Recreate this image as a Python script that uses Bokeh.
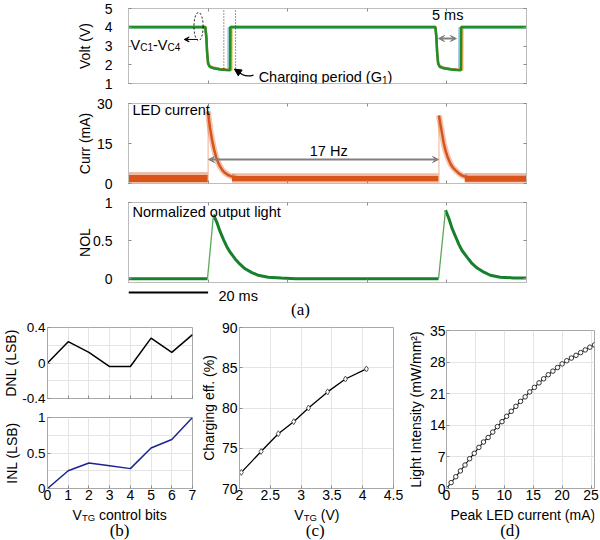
from bokeh.plotting import figure
from bokeh.models import Range1d, FixedTicker, LinearAxis, Label, Arrow, VeeHead, NormalHead, AllLabels
from bokeh.layouts import column, row
from bokeh.embed import file_html
from bokeh.resources import INLINE

# ================= DATA =================
# ---- (a) time base (ms)
time_range_ms = [0, 100]
time_ticks_ms = [0, 20, 40, 60, 80, 100]

# ---- (a) top: capacitor voltages V_C1..V_C4 (V)
vc1_t = [0, 19.3, 19.55, 19.75, 20.0, 20.4, 21.4, 23.0, 24.5, 25.0, 25.05, 77.1, 77.35, 77.55, 77.8, 78.2, 79.2, 81.0, 82.5, 83.0, 83.05, 100]
vc1_v = [3.98, 3.98, 3.46, 2.62, 2.04, 1.87, 1.79, 1.73, 1.70, 1.69, 3.98, 3.98, 3.46, 2.62, 2.04, 1.87, 1.79, 1.73, 1.70, 1.69, 3.98, 3.98]
vc2_t = [0, 19.3, 19.55, 19.75, 20.0, 20.4, 21.4, 23.0, 24.5, 26.0, 26.05, 77.1, 77.35, 77.55, 77.8, 78.2, 79.2, 81.0, 82.5, 84.0, 84.05, 100]
vc2_v = [4.01, 4.01, 3.50, 2.66, 2.08, 1.90, 1.82, 1.76, 1.73, 1.71, 4.01, 4.01, 3.50, 2.66, 2.08, 1.90, 1.82, 1.76, 1.73, 1.71, 4.01, 4.01]
vc3_t = [0, 19.3, 19.55, 19.75, 20.0, 20.4, 21.4, 23.0, 24.5, 25.6, 25.65, 77.1, 77.35, 77.55, 77.8, 78.2, 79.2, 81.0, 82.5, 83.6, 83.65, 100]
vc3_v = [4.03, 4.03, 3.52, 2.68, 2.10, 1.92, 1.84, 1.78, 1.75, 1.73, 4.03, 4.03, 3.52, 2.68, 2.10, 1.92, 1.84, 1.78, 1.75, 1.73, 4.03, 4.03]
vc4_t = [0, 19.3, 19.55, 19.75, 20.0, 20.4, 21.4, 23.0, 24.5, 25.5, 25.55, 77.1, 77.35, 77.55, 77.8, 78.2, 79.2, 81.0, 82.5, 83.5, 83.55, 100]
vc4_v = [4.00, 4.00, 3.48, 2.64, 2.06, 1.89, 1.81, 1.75, 1.72, 1.71, 4.00, 4.00, 3.48, 2.64, 2.06, 1.89, 1.81, 1.75, 1.72, 1.71, 4.00, 4.00]
volt_range = [1, 5]
volt_ticks = [1, 2, 3, 4, 5]
charge_marks_t = [23.95, 26.9]
charge_marks_v = [1.8, 5.0]

# ---- (a) middle: LED current (mA)
cur_range = [0, 30]
cur_ticks = [0, 15, 30]
cur_noise_start = [0, 26.0, 84.5]
cur_noise_end = [19.95, 77.9, 100]
cur_noise_core_lo = [0.6, 0.8, 0.7]
cur_noise_core_hi = [3.2, 2.8, 2.9]
cur_noise_outer_lo = [0.1, 0.3, 0.3]
cur_noise_outer_hi = [4.3, 3.8, 3.9]
cur_p1_t = [20.0, 20.25, 20.5, 20.75, 21.0, 21.5, 22.0, 22.5, 23.0, 23.5, 24.0, 25.0, 26.0, 27.0]
cur_p1_i = [27.0, 23.5, 20.8, 18.5, 16.3, 12.8, 10.0, 8.0, 6.4, 5.2, 4.3, 3.2, 2.6, 2.2]
cur_p2_t = [78.0, 78.4, 78.8, 79.2, 79.65, 80.2, 80.9, 81.5, 82.2, 83.0, 83.8, 85.0]
cur_p2_i = [25.5, 22.0, 18.6, 15.2, 12.4, 9.8, 7.4, 6.0, 4.9, 3.8, 3.0, 2.4]

# ---- (a) bottom: normalized output light
nol_range = [-0.05, 1.0]
nol_ticks = [0, 0.5, 1]
nol_t = [0, 19.85, 21.35, 22.2, 23.0, 23.9, 24.7, 25.5, 26.8, 28.0, 29.3, 31.0, 32.6, 35.1, 38.4, 42.0,
         77.9, 79.65, 80.5, 81.3, 82.2, 83.0, 83.8, 85.1, 86.3, 87.6, 89.3, 90.9, 93.4, 96.7, 100]
nol_v = [0, 0, 0.84, 0.74, 0.62, 0.51, 0.42, 0.35, 0.26, 0.19, 0.13, 0.08, 0.045, 0.02, 0.008, 0.0,
         0.0, 0.90, 0.79, 0.66, 0.55, 0.45, 0.37, 0.28, 0.20, 0.14, 0.085, 0.045, 0.02, 0.01, 0.01]
scale_bar_ms = [0, 20]

# ---- (b) DNL / INL
bits = [0, 1, 2, 3, 4, 5, 6, 7]
dnl = [0.0, 0.24, 0.12, -0.04, -0.04, 0.28, 0.12, 0.32]
inl = [0.0, 0.25, 0.36, 0.32, 0.28, 0.57, 0.69, 1.0]
dnl_ticks = [-0.4, 0, 0.4]
dnl_labels = ["-0.4", "0", "0.4"]
dnl_grid = [-0.4, -0.2, 0, 0.2, 0.4]
inl_ticks = [0, 0.5, 1]
inl_grid = [0, 0.25, 0.5, 0.75, 1]

# ---- (c) charging efficiency
vtg = [2.03, 2.35, 2.63, 2.88, 3.12, 3.43, 3.72, 4.06]
eff = [72.0, 74.6, 76.8, 78.3, 80.0, 82.0, 83.6, 84.85]
vtg_ticks = [2, 2.5, 3, 3.5, 4, 4.5]
eff_ticks = [70, 75, 80, 85, 90]

# ---- (d) light intensity
peak_ma = [0, 0.8, 1.6, 2.4, 3.2, 4.0, 4.8, 5.6, 6.4, 7.2, 8.0, 8.8, 9.6, 10.4, 11.2, 12.0, 12.8,
           13.6, 14.4, 15.2, 16.0, 16.8, 17.6, 18.4, 19.2, 20.0, 20.8, 21.6, 22.4, 23.2, 24.0, 24.8, 25.6]
intensity = [0, 1.3, 2.6, 3.9, 5.2, 6.6, 7.8, 9.1, 10.3, 11.3, 12.5, 13.7, 14.8, 16.0, 17.1, 18.2, 19.3,
             20.3, 21.4, 22.4, 23.4, 24.3, 25.2, 26.0, 26.8, 27.6, 28.3, 28.9, 29.5, 30.1, 30.7, 31.3, 31.8]
ma_range = [0, 25.6]
ma_ticks = [0, 5, 10, 15, 20, 25]
int_ticks = [0, 7, 14, 21, 28, 35]

# ================= STYLE =================
FONT = "Liberation Sans"
SERIF = "Liberation Serif"
FRAME = "#bdbdbd"
FRAME2 = "#a8a8a8"
TICK = "#8c8c8c"
GRID = "#e4e4e4"
ORANGE = "#d9541a"
GREEN = "#16802c"

W = {' ': .278, '(': .333, ')': .333, '-': .333, '.': .278, '%': .889, '/': .278,
     'A': .667, 'B': .667, 'C': .722, 'D': .722, 'E': .667, 'G': .778, 'I': .278, 'L': .556,
     'N': .722, 'P': .667, 'S': .667, 'T': .611, 'V': .667, 'W': .944,
     'a': .556, 'b': .556, 'c': .5, 'd': .556, 'e': .556, 'f': .278, 'g': .556, 'h': .556,
     'i': .222, 'k': .5, 'l': .222, 'm': .833, 'n': .556, 'o': .556, 'p': .556, 'r': .333,
     's': .5, 't': .278, 'u': .556, 'y': .5, 'z': .5}


def tw(s, px):
    return sum(W.get(c, .556) for c in s) * px


def compose(p, x, yb, ys, pieces):
    # pieces: (text, font px, is_subscript, extra gap before in px)
    off = 0.0
    for txt, px, sub, gap in pieces:
        off += gap
        p.add_layout(Label(x=x, y=ys if sub else yb, x_offset=off, text=txt, text_font=FONT,
                           text_font_size=f"{px}px", text_baseline="alphabetic",
                           text_align="left", text_color="black"))
        off += tw(txt, px)


def label(p, x, y, text, size=14.5, align="left", font=FONT, baseline="middle"):
    p.add_layout(Label(x=x, y=y, text=text, text_font=font, text_font_size=f"{size}px",
                       text_align=align, text_baseline=baseline, text_color="black"))


def style_axis(ax, ticks, labels=True, font_px=14, standoff=4, line=FRAME, tick_in=3, names=None):
    ax.ticker = FixedTicker(ticks=ticks)
    ax.major_tick_in = tick_in
    ax.major_tick_out = 0
    ax.minor_tick_line_color = None
    ax.axis_line_color = line
    ax.major_tick_line_color = TICK
    ax.major_label_text_font = FONT
    ax.major_label_policy = AllLabels()
    if labels:
        ax.major_label_text_color = "black"
        ax.major_label_text_font_size = f"{font_px}px"
        ax.major_label_standoff = standoff
        names = names or ["%g" % v for v in ticks]
        ax.major_label_overrides = dict(zip(ticks, names))
    else:
        ax.major_label_text_color = None
        ax.major_label_text_font_size = "1px"
        ax.major_label_standoff = 0
    ax.axis_label_text_font = FONT
    ax.axis_label_text_font_style = "normal"
    ax.axis_label_text_color = "black"
    ax.axis_label_text_font_size = "14px"


x_shared = Range1d(*time_range_ms)


def top_fig(h, top, bottom, yr, yticks, ylabel, lab_off):
    p = figure(width=600, height=h, x_range=x_shared, y_range=Range1d(*yr),
               output_backend="svg", toolbar_location=None,
               min_border_left=128, min_border_right=74,
               min_border_top=top, min_border_bottom=bottom)
    p.grid.visible = False
    p.outline_line_color = FRAME
    style_axis(p.xaxis[0], time_ticks_ms, labels=False)
    style_axis(p.yaxis[0], yticks, labels=True, font_px=14, standoff=16)
    p.yaxis[0].axis_label = ylabel
    p.yaxis[0].axis_label_standoff = lab_off
    ax = LinearAxis()
    style_axis(ax, time_ticks_ms, labels=False)
    p.add_layout(ax, "above")
    ay = LinearAxis()
    style_axis(ay, yticks, labels=False)
    p.add_layout(ay, "right")
    return p


# ---------- (a) voltage ----------
p1 = top_fig(93, 8, 10, volt_range, volt_ticks, "Volt (V)", 9)
p1.line(vc1_t, vc1_v, line_color="#9cc6e4", line_width=1.5)
p1.line(vc2_t, vc2_v, line_color="#e8cf6a", line_width=1.5)
p1.line(vc3_t, vc3_v, line_color="#d97f2e", line_width=2.5)
p1.line(vc4_t, vc4_v, line_color="#1f8f2a", line_width=2.5)
p1.segment(x0=charge_marks_t, y0=[charge_marks_v[0]] * 2, x1=charge_marks_t,
           y1=[charge_marks_v[1]] * 2, line_dash="1 2", line_color="#333333", line_width=1)
p1.ellipse(x=[17.6], y=[4.04], width=[2.3], height=[1.5], fill_color=None,
           line_color="black", line_dash="2 2", line_width=1)
p1.add_layout(Arrow(end=VeeHead(size=5, line_color="black", fill_color="black", line_width=1),
                    x_start=17.4, y_start=3.35, x_end=14.0, y_end=3.35, line_color="black", line_width=1))
compose(p1, 0.5, 3.07, 2.91, [("V", 14.5, False, 0), ("C1", 10, True, 0),
                              ("-V", 14.5, False, 0), ("C4", 10, True, 0)])
p1.bezier(x0=[31.4], y0=[1.45], x1=[27.6], y1=[1.66], cx0=[29.6], cy0=[1.33], cx1=[28.3], cy1=[1.48],
          line_color="black", line_width=1.3)
p1.add_layout(Arrow(end=NormalHead(size=7, line_color="black", fill_color="black"),
                    x_start=27.8, y_start=1.6, x_end=26.6, y_end=1.77, line_color="black", line_width=1.3))
compose(p1, 32.7, 1.33, 1.17, [("Charging period (G", 14.5, False, 0), ("1", 10, True, 0),
                               (")", 14.5, False, 0)])
label(p1, 80.2, 4.63, "5 ms", align="center")
p1.add_layout(Arrow(start=VeeHead(size=6, line_color="#808080", fill_color="#808080"),
                    end=VeeHead(size=6, line_color="#808080", fill_color="#808080"),
                    x_start=77.9, y_start=3.4, x_end=82.4, y_end=3.4, line_color="#808080", line_width=2))

# ---------- (a) current ----------
p2 = top_fig(100, 10, 10, cur_range, cur_ticks, "Curr (mA)", 1)
p2.quad(left=cur_noise_start, right=cur_noise_end, bottom=cur_noise_outer_lo, top=cur_noise_outer_hi,
        fill_color=ORANGE, fill_alpha=0.4, line_color=None)
p2.quad(left=cur_noise_start, right=cur_noise_end, bottom=cur_noise_core_lo, top=cur_noise_core_hi,
        fill_color=ORANGE, line_color=None)
p2.segment(x0=[cur_p1_t[0], cur_p2_t[0]], y0=[0, 0], x1=[cur_p1_t[0], cur_p2_t[0]],
           y1=[cur_p1_i[0], cur_p2_i[0]], line_color="#f0b090", line_width=1)
p2.line(cur_p1_t, cur_p1_i, line_color=ORANGE, line_width=6, line_alpha=0.35)
p2.line(cur_p2_t, cur_p2_i, line_color=ORANGE, line_width=6, line_alpha=0.35)
p2.line(cur_p1_t, cur_p1_i, line_color=ORANGE, line_width=2.5)
p2.line(cur_p2_t, cur_p2_i, line_color=ORANGE, line_width=2.5)
label(p2, 1.0, 27.4, "LED current")
label(p2, 50.3, 12.2, "17 Hz", align="center")
p2.add_layout(Arrow(start=VeeHead(size=6, line_color="#808080", fill_color="#808080"),
                    end=VeeHead(size=6, line_color="#808080", fill_color="#808080"),
                    x_start=20.1, y_start=9.0, x_end=77.9, y_end=9.0, line_color="#808080", line_width=2))

# ---------- (a) NOL ----------
p3 = top_fig(95, 9, 6, nol_range, nol_ticks, "NOL", -3)
rise_idx = [i for i in range(len(nol_v) - 1) if nol_v[i + 1] - nol_v[i] > 0.3]
xs, ys, s = [], [], 0
for i in rise_idx:
    xs.append(nol_t[s:i + 1]); ys.append(nol_v[s:i + 1]); s = i + 1
xs.append(nol_t[s:]); ys.append(nol_v[s:])
p3.multi_line(xs, ys, line_color=GREEN, line_width=3)
p3.segment(x0=[nol_t[i] for i in rise_idx], y0=[nol_v[i] for i in rise_idx],
           x1=[nol_t[i + 1] for i in rise_idx], y1=[nol_v[i + 1] for i in rise_idx],
           line_color="#5aa85a", line_width=1.3)
label(p3, 1.0, 0.88, "Normalized output light")

# ---------- (a) scale bar strip (y measured downward in px) ----------
psb = figure(width=600, height=31, x_range=x_shared, y_range=Range1d(31, 0),
             output_backend="svg", toolbar_location=None, x_axis_type=None, y_axis_type=None,
             min_border_left=128, min_border_right=74, min_border_top=0, min_border_bottom=0)
psb.grid.visible = False
psb.outline_line_color = None
psb.line(scale_bar_ms, [4, 4], line_color="black", line_width=2)
label(psb, 22.6, 7.5, "20 ms")
label(psb, 43.2, 21, "(a)", size=17, align="center", font=SERIF)


# ---------- bottom row ----------
def bot_fig(w, h, left, right, top, bottom, xr, yr, xticks, yticks, xgrid, ygrid,
            xlabels=True, ystand=4, ynames=None, yfont=14):
    p = figure(width=w, height=h, x_range=xr, y_range=Range1d(*yr),
               output_backend="svg", toolbar_location=None,
               min_border_left=left, min_border_right=right, min_border_top=top, min_border_bottom=bottom)
    p.outline_line_color = FRAME2
    p.xgrid.ticker = FixedTicker(ticks=xgrid)
    p.ygrid.ticker = FixedTicker(ticks=ygrid)
    p.grid.grid_line_color = GRID
    style_axis(p.xaxis[0], xticks, labels=xlabels, standoff=1, line=FRAME2)
    style_axis(p.yaxis[0], yticks, labels=True, standoff=ystand, line=FRAME2, names=ynames, font_px=yfont)
    return p


def strip(w, left, right, xr):
    # frame for the x-label texts; y measured downward in px from the strip top
    p = figure(width=w, height=35, x_range=xr, y_range=Range1d(35, 0),
               output_backend="svg", toolbar_location=None, x_axis_type=None, y_axis_type=None,
               min_border_left=left, min_border_right=right, min_border_top=0, min_border_bottom=0)
    p.grid.visible = False
    p.outline_line_color = None
    return p


SPACE14 = tw(" ", 14)

xr_b = Range1d(0, 7)
pd_ = bot_fig(197, 88, 42, 5, 8, 9, xr_b, [-0.4, 0.4], bits, dnl_ticks, bits, dnl_grid,
              xlabels=False, ystand=2, ynames=dnl_labels, yfont=13.5)
pd_.yaxis[0].axis_label = "DNL (LSB)"
pd_.yaxis[0].axis_label_standoff = 0
pd_.line(bits, dnl, line_color="black", line_width=1.5)

pi_ = bot_fig(197, 98, 42, 5, 10, 17, xr_b, [0, 1], bits, inl_ticks, bits, inl_grid,
              ystand=2, yfont=13.5)
pi_.yaxis[0].axis_label = "INL (LSB)"
pi_.yaxis[0].axis_label_standoff = 4
pi_.line(bits, inl, line_color="#1c2490", line_width=1.5)

sb = strip(197, 42, 5, xr_b)
compose(sb, 1.21, 9, 11.5, [("V", 14, False, 0), ("TG", 9.5, True, 0), ("control bits", 14, False, SPACE14)])
label(sb, 3.48, 25, "(b)", size=17, align="center", font=SERIF)

xr_c = Range1d(2, 4.5)
pc = bot_fig(207, 186, 36, 11, 8, 17, xr_c, [70, 90], vtg_ticks, eff_ticks, vtg_ticks, eff_ticks, ystand=2)
pc.yaxis[0].axis_label = "Charging eff. (%)"
pc.yaxis[0].axis_label_standoff = 2
pc.line(vtg, eff, line_color="black", line_width=1.3)
pc.scatter(vtg, eff, marker="diamond", size=6, line_color="#555555", fill_color="white", line_width=1)
sc = strip(207, 36, 11, xr_c)
compose(sc, 2.89, 9, 11.5, [("V", 14, False, 0), ("TG", 9.5, True, 0), ("(V)", 14, False, SPACE14)])
label(sc, 3.23, 25, "(c)", size=17, align="center", font=SERIF)

xr_d = Range1d(*ma_range)
pdd = bot_fig(196, 186, 34, 6, 11, 17, xr_d, [0, 35], ma_ticks, int_ticks, ma_ticks, int_ticks, ystand=1)
pdd.yaxis[0].axis_label = "Light Intensity (mW/mm²)"
pdd.yaxis[0].axis_label_standoff = 3
pdd.line(peak_ma, intensity, line_color="black", line_width=1.1)
pdd.scatter(peak_ma, intensity, marker="circle", size=4.5, line_color="#333333", fill_color="white",
            line_width=1)
sd = strip(196, 34, 6, xr_d)
label(sd, 13.2, 9, "Peak LED current (mA)", size=14, align="center", baseline="alphabetic")
label(sd, 11.0, 25, "(d)", size=17, align="center", font=SERIF)

layout = column(column(p1, p2, p3, psb),
                row(column(pd_, pi_, sb), column(pc, sc), column(pdd, sd)))
open("out.html", "w").write(file_html(layout, INLINE))
